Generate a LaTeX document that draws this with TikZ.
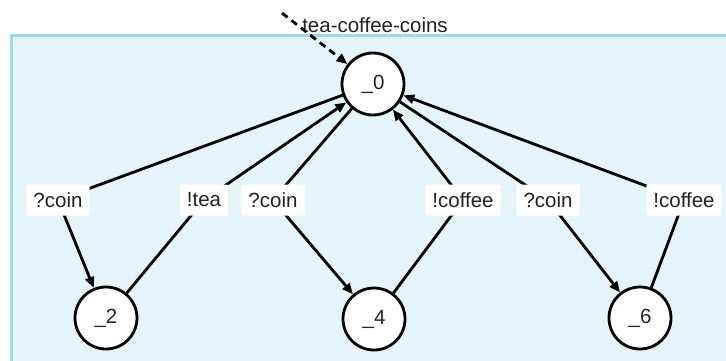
\documentclass[tikz,border=0pt]{standalone}
\usepackage{fontspec}
\setmainfont{Liberation Sans}
\usetikzlibrary{arrows.meta}
\definecolor{bgfill}{HTML}{E4F4FA}
\definecolor{bgline}{HTML}{9ED8EC}
\definecolor{txt}{HTML}{222222}
\tikzset{
  state/.style={circle, draw=black, line width=2.8pt, fill=white, minimum size=62pt, inner sep=0pt, font=\fontsize{20.5}{24}\selectfont, text=txt},
  lbl/.style={fill=white, rounded corners=1pt, minimum height=31pt, inner xsep=7pt, inner ysep=0pt, font=\fontsize{20.5}{24}\selectfont, text=txt},
  edge/.style={line width=2.8pt, -{Triangle[length=11pt,width=9pt]}},
  initedge/.style={line width=2.8pt, dash pattern=on 7pt off 5pt, -{Triangle[length=11pt,width=9pt]}}
}
\begin{document}
\begin{tikzpicture}[x=1pt,y=-1pt]
\useasboundingbox (0,0) rectangle (726,361);
\clip (0,0) rectangle (726,361);
\fill[white] (0,0) rectangle (726,361);
\draw[fill=bgfill, draw=bgline, line width=3pt] (11,36) rectangle (760,400);

\node[state] (n0) at (373,84) {\_0};
\node[state] (n2) at (106,318) {\_2};
\node[state] (n4) at (374,319) {\_4};
\node[state] (n6) at (640,318) {\_6};

\coordinate (c1) at (58,200);
\coordinate (c2) at (204,200);
\coordinate (c3) at (273,200);
\coordinate (c4) at (463,200);
\coordinate (c5) at (548,200);
\coordinate (c6) at (684,200);
\coordinate (init) at (282,13);

\draw[edge] (n0) -- (c1) -- (n2);
\draw[edge] (n2) -- (c2) -- (n0);
\draw[edge] (n0) -- (c3) -- (n4);
\draw[edge] (n4) -- (c4) -- (n0);
\draw[edge] (n0) -- (c5) -- (n6);
\draw[edge] (n6) -- (c6) -- (n0);

\node[lbl] (l1) at (c1) {?coin};
\node[lbl] (l2) at (c2) {!tea};
\node[lbl] (l3) at (c3) {?coin};
\node[lbl] (l4) at (c4) {!coffee};
\node[lbl] (l5) at (c5) {?coin};
\node[lbl] (l6) at (c6) {!coffee};

\node[font=\fontsize{20.5}{24}\selectfont, text=txt, inner sep=0pt] (title) at (375,25) {tea-coffee-coins};
\draw[initedge] (init) -- (n0);
\end{tikzpicture}
\end{document}
